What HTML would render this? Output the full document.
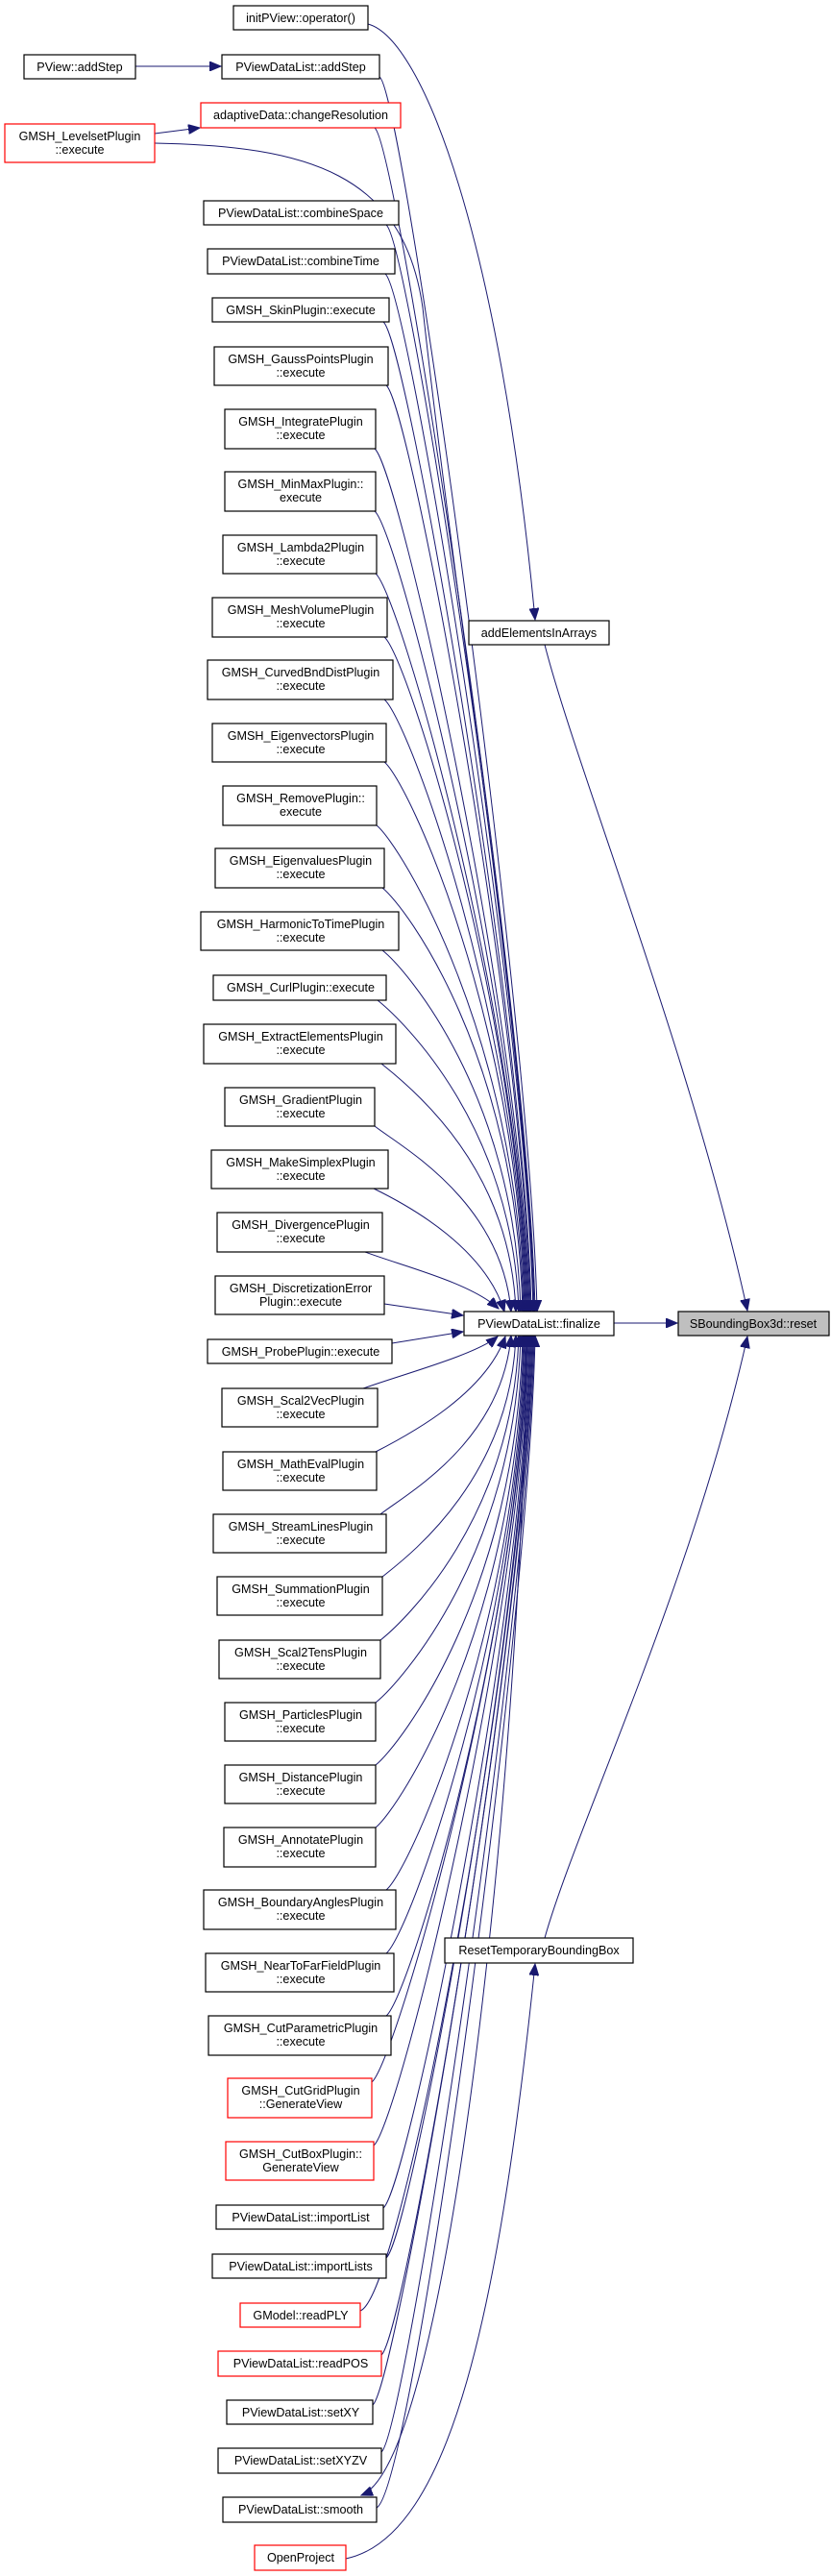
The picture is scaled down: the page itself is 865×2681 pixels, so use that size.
<!DOCTYPE html>
<html><head><meta charset="utf-8"><style>
html,body{margin:0;padding:0;background:#fff;}
svg{display:block;}
text{font-family:"Liberation Sans",Arial,sans-serif;font-size:12.6px;fill:#000;text-anchor:middle;}
.b{fill:#fff;stroke:#000;stroke-width:1.2;}
.r{fill:#fff;stroke:#ff0000;stroke-width:1.2;}
.e{fill:none;stroke:#191970;stroke-width:1;}
</style></head><body>
<svg width="865" height="2681" viewBox="0 0 865 2681" xmlns="http://www.w3.org/2000/svg">
<defs>
<marker id="a" markerWidth="13" markerHeight="10" refX="12" refY="5" orient="auto" markerUnits="userSpaceOnUse">
<path d="M0,0 L12,5 L0,10 z" fill="#191970" stroke="#191970"/>
</marker>
</defs>

<!-- edges -->
<g class="e" marker-end="url(#a)">
<path d="M383,25 C440,40 520,250 557,645"/>
<path d="M141,69 L230,69"/>
<path d="M161,139 L208,133"/>
<path d="M395,80 C420,95 553,1065 559,1365"/>
<path d="M161,149 C320,152 420,180 440,320 C470,600 550,1100 555,1365"/>
<path d="M390,133 C415,153 551,1065 557,1365"/>
<path d="M402,234 C427,254 550,1065 556,1365"/>
<path d="M401,285 C426,305 549,1065 555,1365"/>
<path d="M399,335 C424,355 547,1065 553,1365"/>
<path d="M402,401 C427,421 546,1065 552,1365"/>
<path d="M390,467 C415,487 545,1065 551,1365"/>
<path d="M390,532 C415,552 544,1065 550,1365"/>
<path d="M391,597 C416,617 543,1065 549,1365"/>
<path d="M400,663 C425,683 542,1065 548,1365"/>
<path d="M400,728 C425,748 541,1065 547,1365"/>
<path d="M400,793 C425,813 540,1065 546,1365"/>
<path d="M392,859 C417,879 539,1080 545,1365"/>
<path d="M398,924 C423,944 538,1100 544,1365"/>
<path d="M398,989 C423,1009 536,1139 542,1365"/>
<path d="M393,1041 C418,1061 534,1171 540,1365"/>
<path d="M397,1107 C422,1127 531,1210 537,1365"/>
<path d="M390,1172 C415,1192 522,1249 532,1365"/>
<path d="M389,1237 C430,1257 505,1300 525,1365"/>
<path d="M380,1303 C420,1318 490,1335 519,1362"/>
<path d="M400,1357 L482,1369"/>
<path d="M408,1398 L482,1386"/>
<path d="M378,1445 C420,1430 495,1410 518,1391"/>
<path d="M391,1511 C430,1491 505,1450 526,1391"/>
<path d="M396,1576 C421,1556 522,1502 532,1390"/>
<path d="M398,1641 C423,1621 531,1541 537,1390"/>
<path d="M396,1707 C421,1687 534,1580 540,1390"/>
<path d="M391,1772 C416,1752 536,1619 542,1390"/>
<path d="M391,1837 C416,1817 538,1658 544,1390"/>
<path d="M391,1902 C416,1882 539,1690 545,1390"/>
<path d="M402,1967 C427,1947 540,1690 546,1390"/>
<path d="M402,2033 C427,2013 541,1690 547,1390"/>
<path d="M402,2098 C427,2078 542,1690 548,1390"/>
<path d="M387,2167 C412,2147 543,1690 549,1390"/>
<path d="M389,2233 C414,2213 544,1690 550,1390"/>
<path d="M399,2298 C424,2278 545,1690 551,1390"/>
<path d="M402,2350 C427,2330 546,1690 552,1390"/>
<path d="M375,2405 C420,2390 547,1690 553,1390"/>
<path d="M397,2451 C422,2431 548,1690 554,1390"/>
<path d="M388,2503 C413,2483 549,1690 555,1390"/>
<path d="M397,2552 C422,2532 550,1690 556,1390"/>
<path d="M392,2610 C430,2590 551,1690 557,1390"/>
<path d="M548,1390 C545,1800 470,2560 376,2597"/>
<path d="M567,671 C600,800 720,1100 778,1364"/>
<path d="M639,1377 L705,1377"/>
<path d="M567,2017 C600,1900 720,1650 778,1391"/>
<path d="M360,2663 C470,2640 520,2400 557,2044"/>
</g>

<!-- nodes -->
<rect class="b" x="243" y="6" width="140" height="25"/><text x="313" y="23">initPView::operator()</text>
<rect class="b" x="25" y="57" width="116" height="25"/><text x="83" y="74">PView::addStep</text>
<rect class="b" x="231" y="57" width="164" height="25"/><text x="313" y="74">PViewDataList::addStep</text>
<rect class="r" x="209" y="107" width="208" height="26"/><text x="313" y="124">adaptiveData::changeResolution</text>
<rect class="r" x="5" y="129" width="156" height="40"/><text x="83" y="146">GMSH_LevelsetPlugin</text><text x="83" y="160">::execute</text>
<rect class="b" x="212" y="209" width="203" height="25"/><text x="313" y="226">PViewDataList::combineSpace</text>
<rect class="b" x="216" y="259" width="195" height="26"/><text x="313" y="276">PViewDataList::combineTime</text>
<rect class="b" x="221" y="310" width="184" height="25"/><text x="313" y="327">GMSH_SkinPlugin::execute</text>
<rect class="b" x="223" y="361" width="181" height="40"/><text x="313" y="378">GMSH_GaussPointsPlugin</text><text x="313" y="392">::execute</text>
<rect class="b" x="234" y="426" width="157" height="41"/><text x="313" y="443">GMSH_IntegratePlugin</text><text x="313" y="457">::execute</text>
<rect class="b" x="234" y="491" width="157" height="41"/><text x="313" y="508">GMSH_MinMaxPlugin::</text><text x="313" y="522">execute</text>
<rect class="b" x="232" y="557" width="160" height="40"/><text x="313" y="574">GMSH_Lambda2Plugin</text><text x="313" y="588">::execute</text>
<rect class="b" x="221" y="622" width="182" height="41"/><text x="313" y="639">GMSH_MeshVolumePlugin</text><text x="313" y="653">::execute</text>
<rect class="b" x="216" y="687" width="193" height="41"/><text x="313" y="704">GMSH_CurvedBndDistPlugin</text><text x="313" y="718">::execute</text>
<rect class="b" x="221" y="753" width="181" height="40"/><text x="313" y="770">GMSH_EigenvectorsPlugin</text><text x="313" y="784">::execute</text>
<rect class="b" x="232" y="818" width="160" height="41"/><text x="313" y="835">GMSH_RemovePlugin::</text><text x="313" y="849">execute</text>
<rect class="b" x="224" y="883" width="176" height="41"/><text x="313" y="900">GMSH_EigenvaluesPlugin</text><text x="313" y="914">::execute</text>
<rect class="b" x="209" y="949" width="206" height="40"/><text x="313" y="966">GMSH_HarmonicToTimePlugin</text><text x="313" y="980">::execute</text>
<rect class="b" x="222" y="1015" width="180" height="26"/><text x="313" y="1032">GMSH_CurlPlugin::execute</text>
<rect class="b" x="212" y="1066" width="200" height="41"/><text x="313" y="1083">GMSH_ExtractElementsPlugin</text><text x="313" y="1097">::execute</text>
<rect class="b" x="234" y="1132" width="156" height="40"/><text x="313" y="1149">GMSH_GradientPlugin</text><text x="313" y="1163">::execute</text>
<rect class="b" x="220" y="1197" width="184" height="40"/><text x="313" y="1214">GMSH_MakeSimplexPlugin</text><text x="313" y="1228">::execute</text>
<rect class="b" x="226" y="1262" width="172" height="41"/><text x="313" y="1279">GMSH_DivergencePlugin</text><text x="313" y="1293">::execute</text>
<rect class="b" x="224" y="1328" width="176" height="40"/><text x="313" y="1345">GMSH_DiscretizationError</text><text x="313" y="1359">Plugin::execute</text>
<rect class="b" x="216" y="1394" width="192" height="25"/><text x="313" y="1411">GMSH_ProbePlugin::execute</text>
<rect class="b" x="231" y="1445" width="162" height="40"/><text x="313" y="1462">GMSH_Scal2VecPlugin</text><text x="313" y="1476">::execute</text>
<rect class="b" x="232" y="1511" width="160" height="40"/><text x="313" y="1528">GMSH_MathEvalPlugin</text><text x="313" y="1542">::execute</text>
<rect class="b" x="222" y="1576" width="180" height="40"/><text x="313" y="1593">GMSH_StreamLinesPlugin</text><text x="313" y="1607">::execute</text>
<rect class="b" x="226" y="1641" width="172" height="40"/><text x="313" y="1658">GMSH_SummationPlugin</text><text x="313" y="1672">::execute</text>
<rect class="b" x="228" y="1707" width="168" height="40"/><text x="313" y="1724">GMSH_Scal2TensPlugin</text><text x="313" y="1738">::execute</text>
<rect class="b" x="234" y="1772" width="157" height="40"/><text x="313" y="1789">GMSH_ParticlesPlugin</text><text x="313" y="1803">::execute</text>
<rect class="b" x="234" y="1837" width="157" height="40"/><text x="313" y="1854">GMSH_DistancePlugin</text><text x="313" y="1868">::execute</text>
<rect class="b" x="233" y="1902" width="158" height="41"/><text x="313" y="1919">GMSH_AnnotatePlugin</text><text x="313" y="1933">::execute</text>
<rect class="b" x="212" y="1967" width="200" height="41"/><text x="313" y="1984">GMSH_BoundaryAnglesPlugin</text><text x="313" y="1998">::execute</text>
<rect class="b" x="214" y="2033" width="196" height="40"/><text x="313" y="2050">GMSH_NearToFarFieldPlugin</text><text x="313" y="2064">::execute</text>
<rect class="b" x="217" y="2098" width="190" height="41"/><text x="313" y="2115">GMSH_CutParametricPlugin</text><text x="313" y="2129">::execute</text>
<rect class="r" x="237" y="2163" width="150" height="41"/><text x="313" y="2180">GMSH_CutGridPlugin</text><text x="313" y="2194">::GenerateView</text>
<rect class="r" x="235" y="2229" width="154" height="40"/><text x="313" y="2246">GMSH_CutBoxPlugin::</text><text x="313" y="2260">GenerateView</text>
<rect class="b" x="225" y="2295" width="174" height="25"/><text x="313" y="2312">PViewDataList::importList</text>
<rect class="b" x="221" y="2346" width="181" height="25"/><text x="313" y="2363">PViewDataList::importLists</text>
<rect class="r" x="250" y="2397" width="125" height="25"/><text x="313" y="2414">GModel::readPLY</text>
<rect class="r" x="227" y="2447" width="170" height="26"/><text x="313" y="2464">PViewDataList::readPOS</text>
<rect class="b" x="236" y="2498" width="152" height="25"/><text x="313" y="2515">PViewDataList::setXY</text>
<rect class="b" x="227" y="2548" width="170" height="26"/><text x="313" y="2565">PViewDataList::setXYZV</text>
<rect class="b" x="232" y="2599" width="160" height="26"/><text x="313" y="2616">PViewDataList::smooth</text>
<rect class="r" x="265" y="2649" width="95" height="26"/><text x="313" y="2666">OpenProject</text>

<rect class="b" x="483" y="1365" width="156" height="25"/><text x="561" y="1382">PViewDataList::finalize</text>
<rect x="706" y="1365" width="157" height="25" fill="#bfbfbf" stroke="#000" stroke-width="1.2"/><text x="784" y="1382">SBoundingBox3d::reset</text>
<rect class="b" x="488" y="646" width="146" height="25"/><text x="561" y="663">addElementsInArrays</text>
<rect class="b" x="463" y="2017" width="196" height="26"/><text x="561" y="2034">ResetTemporaryBoundingBox</text>
</svg>
</body></html>
